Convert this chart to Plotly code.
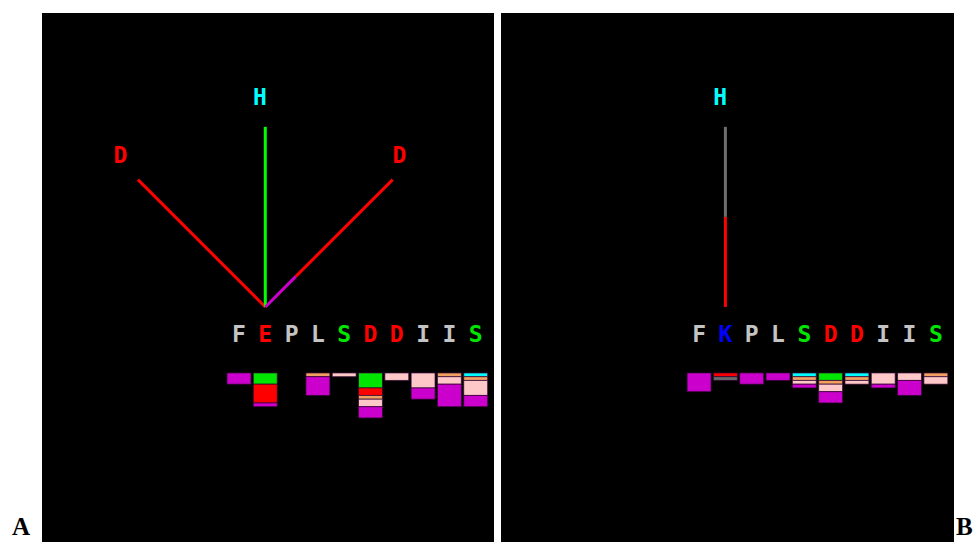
import math
import plotly.graph_objects as go

# ---------------- data ----------------
SEQ_A = list("FEPLSDDIIS")
SEQ_B = list("FKPLSDDIIS")
SEQ_COLORS_A = ["gray", "red", "gray", "gray", "green", "red", "red", "gray", "gray", "green"]
SEQ_COLORS_B = ["gray", "blue", "gray", "gray", "green", "red", "red", "gray", "gray", "green"]

# stacked bar counts per residue (top -> bottom order follows STACK_ORDER)
STACK_ORDER = ["cyan", "green", "red", "darkgray", "orange", "pink", "magenta"]
BARS_A = {
    "cyan":     [0, 0, 0, 0, 0, 0, 0, 0, 0, 1],
    "green":    [0, 3, 0, 0, 0, 4, 0, 0, 0, 0],
    "red":      [0, 5, 0, 0, 0, 2, 0, 0, 0, 0],
    "darkgray": [0, 0, 0, 0, 0, 0, 0, 0, 0, 0],
    "orange":   [0, 0, 0, 1, 0, 1, 0, 0, 1, 1],
    "pink":     [0, 0, 0, 0, 1, 2, 2, 4, 2, 4],
    "magenta":  [3, 1, 0, 5, 0, 3, 0, 3, 6, 3],
}
BARS_B = {
    "cyan":     [0, 0, 0, 0, 1, 0, 1, 0, 0, 0],
    "green":    [0, 0, 0, 0, 0, 2, 0, 0, 0, 0],
    "red":      [0, 1, 0, 0, 0, 0, 0, 0, 0, 0],
    "darkgray": [0, 1, 0, 0, 0, 0, 0, 0, 0, 0],
    "orange":   [0, 0, 0, 0, 1, 1, 1, 0, 0, 1],
    "pink":     [0, 0, 0, 0, 1, 2, 1, 3, 2, 2],
    "magenta":  [5, 0, 3, 2, 1, 3, 0, 1, 4, 0],
}

# vectors drawn from residue ORIGIN_RES: angle from vertical (deg), segments (color, fraction)
ORIGIN_RES = 1
VEC_LENGTH = 6.85
VEC_A_ANGLES = [-45, 0, 45]
VEC_A_SEGMENTS = [[("red", 1.0)], [("green", 1.0)], [("magenta", 0.24), ("red", 0.76)]]
VEC_A_LABELS = ["D", "H", "D"]
VEC_A_LABEL_COLORS = ["red", "cyan", "red"]
VEC_B_ANGLES = [0]
VEC_B_SEGMENTS = [[("red", 0.5), ("linegray", 0.5)]]
VEC_B_LABELS = ["H"]
VEC_B_LABEL_COLORS = ["cyan"]

# ---------------- styles ----------------
PALETTE = {
    "gray": "#c4c4c4",
    "red": "#ff0000",
    "green": "#00e600",
    "blue": "#0000ff",
    "cyan": "#00ffff",
    "darkgray": "#6a6a6a",
    "linegray": "#6e6e6e",
    "orange": "#f0a060",
    "pink": "#ffc8c8",
    "magenta": "#cc00cc",
}
LINE_COLORS = dict(PALETTE, green="#00ff00")
BAR_UNIT = 0.1426
BAR_TOP = -2.51
LETTER_Y = -1.11
LABEL_R = 7.5
LABEL_DX, LABEL_DY = -0.2, 0.39
FONT = "DejaVu Sans Mono"

W, H = 976, 542
fig = go.Figure()


def add_panel(xa, ya, seq, seq_colors, bars, angles, segments, labels, label_colors):
    n = len(seq)
    idx = list(range(n))
    # bars
    cum = [0.0] * n
    for cname in STACK_ORDER:
        vals = bars[cname]
        xs = [i for i in idx if vals[i] > 0]
        if xs:
            fig.add_trace(go.Bar(
                x=xs, y=[-vals[i] * BAR_UNIT for i in xs],
                base=[BAR_TOP - cum[i] * BAR_UNIT for i in xs], width=0.91,
                marker=dict(color=PALETTE[cname], line=dict(color="rgba(50,0,50,0.7)", width=1)),
                xaxis=xa, yaxis=ya, showlegend=False, hoverinfo="skip"))
        cum = [cum[i] + vals[i] for i in idx]
    # sequence letters
    fig.add_trace(go.Scatter(
        x=idx, y=[LETTER_Y] * n, mode="text", text=["<b>%s</b>" % s for s in seq],
        textfont=dict(family=FONT, size=23, color=[PALETTE[c] for c in seq_colors]),
        xaxis=xa, yaxis=ya, showlegend=False, hoverinfo="skip"))
    # vectors
    for ang, segs, lab, lc in zip(angles, segments, labels, label_colors):
        sx, sy = math.sin(math.radians(ang)), math.cos(math.radians(ang))
        f0 = 0.0
        for col, frac in segs:
            f1 = f0 + frac
            fig.add_trace(go.Scatter(
                x=[ORIGIN_RES + sx * VEC_LENGTH * f0, ORIGIN_RES + sx * VEC_LENGTH * f1],
                y=[sy * VEC_LENGTH * f0, sy * VEC_LENGTH * f1], mode="lines",
                line=dict(color=LINE_COLORS[col], width=3),
                xaxis=xa, yaxis=ya, showlegend=False, hoverinfo="skip"))
            f0 = f1
        fig.add_trace(go.Scatter(
            x=[ORIGIN_RES + sx * LABEL_R + LABEL_DX], y=[sy * LABEL_R + LABEL_DY],
            mode="text", text=["<b>%s</b>" % lab],
            textfont=dict(family=FONT, size=23, color=PALETTE[lc]),
            xaxis=xa, yaxis=ya, showlegend=False, hoverinfo="skip"))


add_panel("x", "y", SEQ_A, SEQ_COLORS_A, BARS_A, VEC_A_ANGLES, VEC_A_SEGMENTS, VEC_A_LABELS, VEC_A_LABEL_COLORS)
add_panel("x2", "y2", SEQ_B, SEQ_COLORS_B, BARS_B, VEC_B_ANGLES, VEC_B_SEGMENTS, VEC_B_LABELS, VEC_B_LABEL_COLORS)

ax_common = dict(visible=False, showgrid=False, zeroline=False, fixedrange=True)
yr = [-8.94, 11.18]
fig.update_layout(
    width=W, height=H, margin=dict(l=0, r=0, t=0, b=0),
    paper_bgcolor="white", plot_bgcolor="black", barmode="overlay",
    xaxis=dict(domain=[42 / W, 494 / W], range=[-7.49, 9.696], **ax_common),
    yaxis=dict(domain=[0, 529 / H], range=yr, **ax_common),
    xaxis2=dict(domain=[501 / W, 954 / W], range=[-7.53, 9.69], anchor="y2", **ax_common),
    yaxis2=dict(domain=[0, 529 / H], range=yr, anchor="x2", **ax_common),
    annotations=[
        dict(text="<b>A</b>", x=21 / W, y=0, xref="paper", yref="paper", showarrow=False,
             xanchor="center", yanchor="bottom", font=dict(family="Liberation Serif", size=25, color="black")),
        dict(text="<b>B</b>", x=964 / W, y=0, xref="paper", yref="paper", showarrow=False,
             xanchor="center", yanchor="bottom", font=dict(family="Liberation Serif", size=25, color="black")),
    ],
)

fig.write_html("out.html", config={"displayModeBar": False},
               post_script="document.body.style.margin='0';document.body.style.overflow='hidden';")
